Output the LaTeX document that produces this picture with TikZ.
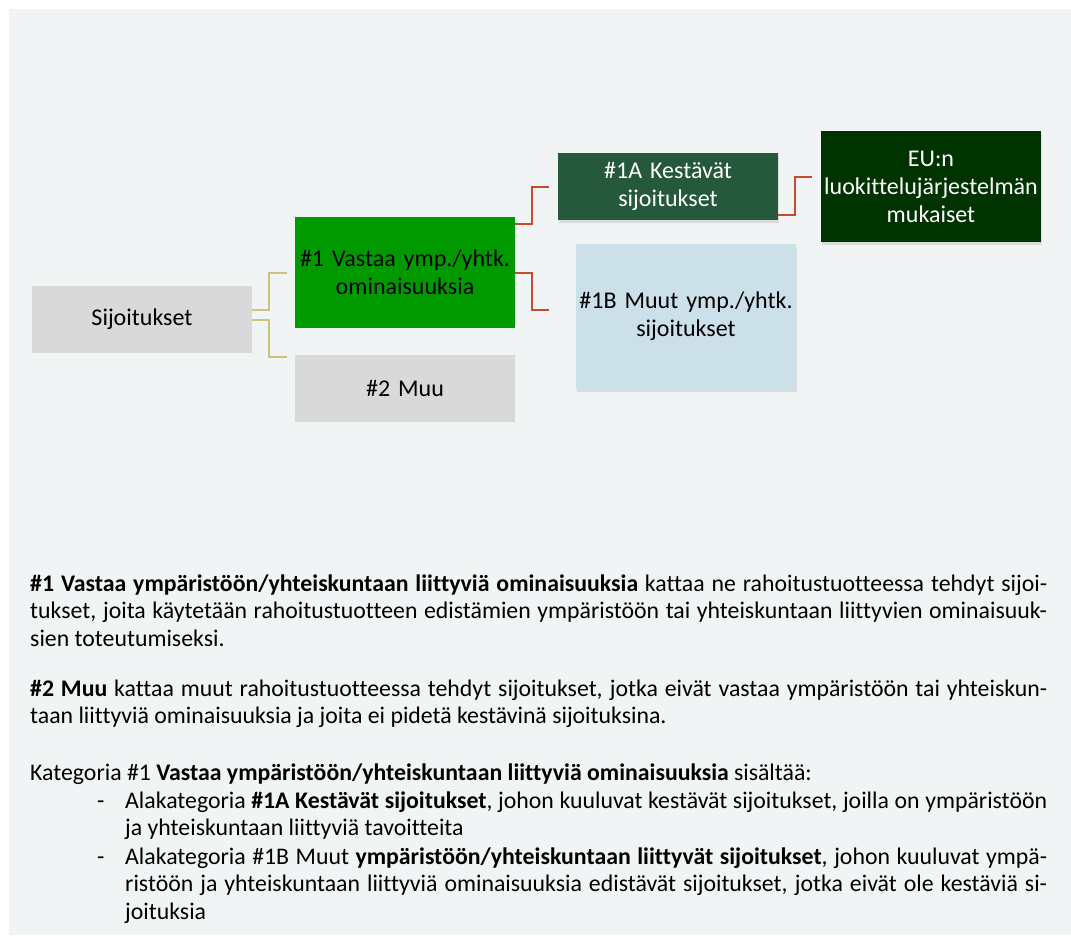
\documentclass[tikz,border=0pt]{standalone}
\usepackage{fontspec}
\setmainfont{Carlito}[Ligatures=NoCommon]
\usepackage{tikz}
\usetikzlibrary{positioning,shadows}

\definecolor{bgpanel}{RGB}{240,244,245}
\definecolor{boxgrey}{RGB}{217,217,217}
\definecolor{boxgreen}{RGB}{0,153,0}
\definecolor{boxforest}{RGB}{38,88,59}
\definecolor{boxdark}{RGB}{0,51,0}
\definecolor{boxblue}{RGB}{204,224,234}
\definecolor{linegold}{RGB}{205,195,125}
\definecolor{linered}{RGB}{200,75,45}

\begin{document}
\begin{tikzpicture}[x=1pt, y=-1pt,
	box/.style={minimum width=220pt, minimum height=67pt, inner sep=2pt, text width=216pt, align=center, font=\fontsize{24}{28}\selectfont},
	greybox/.style={box, fill=boxgrey},
	shadebox/.style={box, drop shadow={opacity=0.2, shadow xshift=0.5pt, shadow yshift=-3pt}},
	goldline/.style={draw=linegold, line width=2pt},
	redline/.style={draw=linered, line width=2pt},
	bodytext/.style={anchor=base west, inner sep=0pt, align=justify, font=\fontsize{23.8}{27.5}\selectfont},
	]

				\useasboundingbox (0, 0) rectangle (1071, 935);
				\fill[bgpanel] (9, 9) rectangle (1071, 935);
				
				\node[greybox] (sij) at (142, 319.5) {Sijoitukset};
				\node[box, fill=boxgreen, minimum height=111pt] (grn) at (405, 272.5) {\#1 Vastaa ymp./yhtk.\\ominaisuuksia};
				\node[greybox] (muu) at (405, 388.5) {\#2 Muu};
				
				\node[shadebox, fill=boxforest, text=white] (kes) at (668, 186.5) {\#1A Kestävät\\sijoitukset};
				\node[shadebox, fill=boxblue, minimum height=145pt] (muut) at (686, 316.5) {\#1B Muut ymp./yhtk.\\sijoitukset};
				\node[shadebox, fill=boxdark, text=white, minimum height=111pt] (eu) at (931, 186.5) {EU:n\\luokittelujärjestelmän\\mukaiset};
				
				\draw[goldline] ([yshift=9.5pt]sij.east) -- ++(17, 0) |- ([xshift=-8pt]grn.west);
				\draw[goldline] ([yshift=-0.5pt]sij.east) -- ++(17, 0) |- ([xshift=-8pt, yshift=31.5pt]muu.west);
				
				\draw[redline] ([yshift=48.5pt]grn.east) -- ++(17, 0) |- ([xshift=-9pt]kes.west);
				\draw[redline] (grn.east) -- ++(17, 0) |- ([xshift=-27pt, yshift=6.5pt]muut.west);
				\draw[redline] ([yshift=-28.5pt]kes.east) -- ++(17, 0) |- ([xshift=-9pt, yshift=9.5pt]eu.west);
				
				\node[bodytext, text width=1017pt] (par1) at (30, 591) {\textbf{\#1 Vastaa ympäristöön/yhteiskuntaan liittyviä ominaisuuksia} kattaa ne rahoitustuotteessa tehdyt sijoi-\linebreak tukset, joita käytetään rahoitustuotteen edistämien ympäristöön tai yhteiskuntaan liittyvien ominaisuuk-\linebreak sien toteutumiseksi.};
				\node[bodytext, text width=1017pt] (par2) at (30, 696) {\textbf{\#2 Muu} kattaa muut rahoitustuotteessa tehdyt sijoitukset, jotka eivät vastaa ympäristöön tai yhteiskun-\linebreak taan liittyviä ominaisuuksia ja joita ei pidetä kestävinä sijoituksina.};
				\node[bodytext, align=left] (kat) at (30, 780) {Kategoria \#1 \textbf{Vastaa ympäristöön/yhteiskuntaan liittyviä ominaisuuksia} sisältää:};
				
				\node[bodytext, align=left] (dash1) at (97, 808) {-};
				\node[bodytext, text width=922pt] (item1) at (125, 808) {Alakategoria \textbf{\#1A Kestävät sijoitukset}, johon kuuluvat kestävät sijoitukset, joilla on ympäristöön\linebreak ja yhteiskuntaan liittyviä tavoitteita};
				\node[bodytext, align=left] (dash2) at (97, 864) {-};
				\node[bodytext, text width=922pt] (item2) at (125, 864) {Alakategoria \#1B Muut \textbf{ympäristöön/yhteiskuntaan liittyvät sijoitukset}, johon kuuluvat ympä-\linebreak ristöön ja yhteiskuntaan liittyviä ominaisuuksia edistävät sijoitukset, jotka eivät ole kestäviä si-\linebreak joituksia};
				
			\end{tikzpicture}
\end{document}
